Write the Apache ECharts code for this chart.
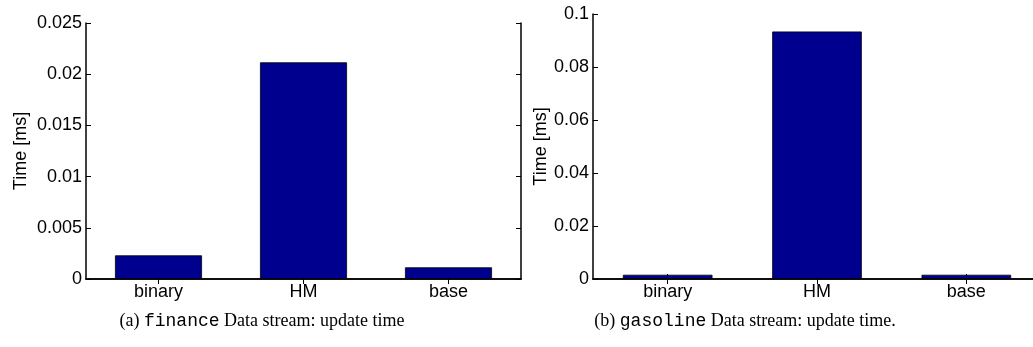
<!DOCTYPE html>
<html>
<head>
<meta charset="utf-8">
<script src="https://cdn.jsdelivr.net/npm/echarts@6/dist/echarts.min.js"></script>
<style>
  html, body { margin: 0; padding: 0; background: #fff; }
  #chart { width: 1033px; height: 347px; }
</style>
</head>
<body>
<div id="chart"></div>
<script>
// data
const categories = ["binary", "HM", "base"];
const financeTimes = [0.00231, 0.02116, 0.00114];
const gasolineTimes = [0.0016, 0.0934, 0.0016];

const financeAxis = { min: 0, max: 0.025, interval: 0.005 };
const gasolineAxis = { min: 0, max: 0.1, interval: 0.02 };

const BAR_COLOR = "#00008f";
const SANS = "'Liberation Sans', Arial, sans-serif";
const lineStyle = { color: "#000", width: 1.5 };

function xAxes(gridIndex) {
  const tick = { show: true, inside: true, length: 5, alignWithLabel: true, lineStyle: { color: "#000", width: 1 } };
  return [
    {
      type: "category", gridIndex, data: categories, position: "bottom",
      axisLine: { lineStyle }, axisTick: tick,
      axisLabel: { color: "#000", fontSize: 18, fontFamily: SANS, margin: 4 },
    },
    {
      type: "category", gridIndex, data: categories, position: "top",
      axisLine: { lineStyle }, axisTick: tick, axisLabel: { show: false },
    },
  ];
}

function yAxes(gridIndex, range) {
  const tick = { show: true, inside: true, length: 5, lineStyle: { color: "#000", width: 1 } };
  return [
    {
      type: "value", gridIndex, position: "left", ...range,
      name: "Time [ms]", nameLocation: "middle", nameGap: 0,
      nameTextStyle: { color: "#000", fontSize: 18, fontFamily: SANS },
      axisLine: { show: true, lineStyle }, axisTick: tick,
      axisLabel: { color: "#000", fontSize: 18, fontFamily: SANS, margin: 4 },
      splitLine: { show: false },
    },
    {
      type: "value", gridIndex, position: "right", ...range,
      axisLine: { show: true, lineStyle }, axisTick: tick,
      axisLabel: { show: false }, splitLine: { show: false },
    },
  ];
}

function barSeries(data, xAxisIndex, yAxisIndex) {
  return {
    type: "bar", data, xAxisIndex, yAxisIndex, barWidth: "60%",
    itemStyle: { color: BAR_COLOR, borderColor: "#000", borderWidth: 0.8 },
    silent: true,
  };
}

const caption = (x, tag, mono, rest) => ({
  type: "text", x, y: 321,
  style: {
    text: `{t|${tag} }{m|${mono}}{t| ${rest}}`,
    align: "center", verticalAlign: "middle",
    rich: {
      t: { fontFamily: "'Liberation Serif', 'Times New Roman', serif", fontSize: 18, fill: "#000" },
      m: { fontFamily: "'Liberation Mono', 'Courier New', monospace", fontSize: 18, fill: "#000" },
    },
  },
});

const chart = echarts.init(document.getElementById("chart"), null, { renderer: "canvas" });
const yLeft = yAxes(0, financeAxis);
const yRight = yAxes(1, gasolineAxis);
yLeft[0].nameGap = 56;
yRight[0].nameGap = 43;

chart.setOption({
  animation: false,
  grid: [
    { left: 86, top: 23, width: 435, height: 256, outerBoundsMode: "none" },
    { left: 593, top: 14, width: 448, height: 265, outerBoundsMode: "none" },
  ],
  xAxis: [...xAxes(0), ...xAxes(1)],
  yAxis: [...yLeft, ...yRight],
  series: [
    barSeries(financeTimes, 0, 0),
    barSeries(gasolineTimes, 2, 2),
  ],
  graphic: [
    caption(262, "(a)", "finance", "Data stream: update time"),
    caption(745, "(b)", "gasoline", "Data stream: update time."),
  ],
});
</script>
</body>
</html>
